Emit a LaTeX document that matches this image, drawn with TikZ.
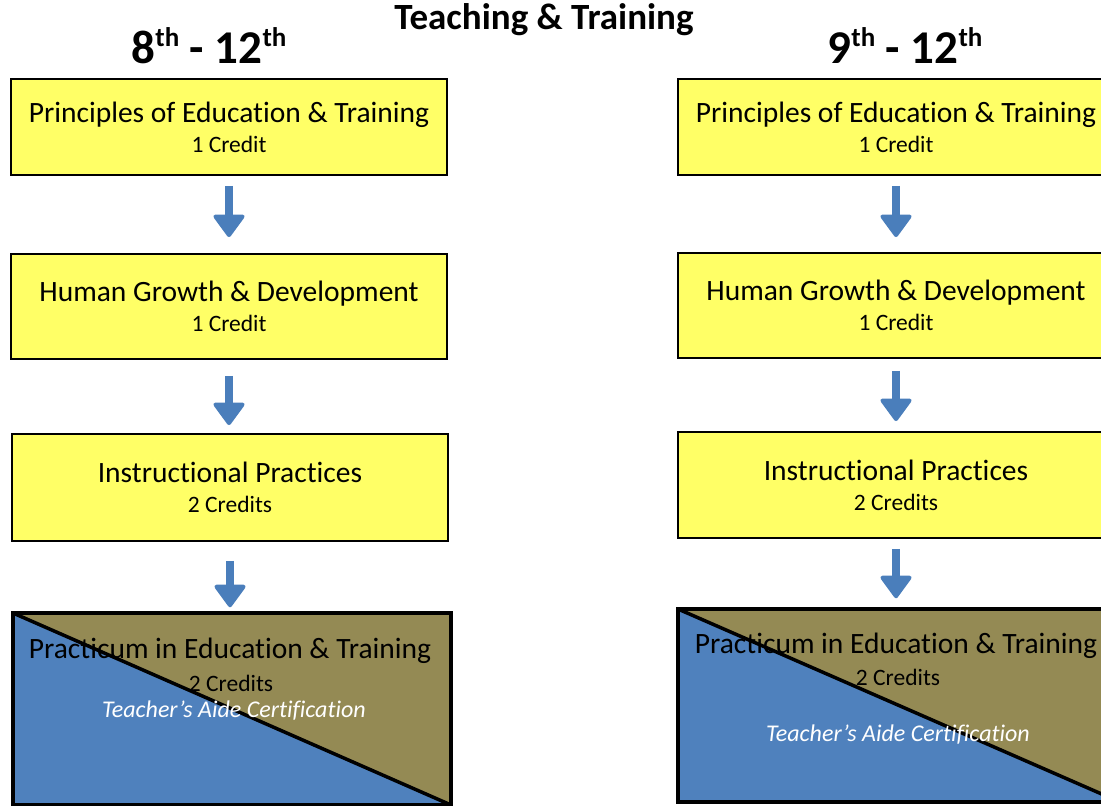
\documentclass[tikz,border=0pt]{standalone}
\usepackage{fontspec}
\setmainfont{Carlito}[Ligatures=NoCommon]
\usetikzlibrary{arrows.meta}

\definecolor{courseyellow}{RGB}{255,255,102}
\definecolor{flowblue}{RGB}{74,126,187}
\definecolor{aideblue}{RGB}{79,129,189}
\definecolor{aideolive}{RGB}{148,138,84}
\newcommand{\gradeord}[1]{\raisebox{17pt}{\fontsize{27}{27}\selectfont #1}}

\begin{document}
\begin{tikzpicture}[x=1pt,y=-1pt,
  course/.style = {draw=black, line width=1.8pt, fill=courseyellow,
    minimum width=436pt, inner sep=0pt, align=center,
    font=\fontsize{29.5}{31}\selectfont},
  credit/.style = {font=\fontsize{23.5}{26}\selectfont},
  practicum/.style = {draw=black, line width=3.5pt,
    minimum width=438pt, minimum height=192pt, inner sep=0pt,
    path picture={
      \fill[aideolive] (path picture bounding box.north west)
        -- (path picture bounding box.north east)
        -- (path picture bounding box.south east) -- cycle;
      \fill[aideblue] (path picture bounding box.north west)
        -- (path picture bounding box.south west)
        -- (path picture bounding box.south east) -- cycle;
      \draw[line width=3.5pt] (path picture bounding box.north west)
        -- (path picture bounding box.south east);
    }},
  aide/.style = {text=white, font=\fontsize{24}{28}\selectfont\itshape},
  grade/.style = {font=\fontsize{47}{52}\selectfont\bfseries},
  flow/.style = {draw=flowblue, line width=8pt,
    -{Triangle[width=34pt,length=24pt,line width=4pt,round]}},
]
\clip (0,0) rectangle (1101,806);

% heading
\node[font=\fontsize{37}{42}\selectfont\bfseries] (title) at (544,20) {Teaching \& Training};
\node[grade] (gradeA) at (209,46) {8\gradeord{th} - 12\gradeord{th}};
\node[grade] (gradeB) at (905,46) {9\gradeord{th} - 12\gradeord{th}};

% 8th - 12th column
\node[course, minimum height=96pt] (l1) at (229,127)
  {Principles of Education \& Training\\[-1pt]{\fontsize{23.5}{26}\selectfont 1 Credit}};
\node[course, minimum height=105pt] (l2) at (229,306.5)
  {Human Growth \& Development\\[-1pt]{\fontsize{23.5}{26}\selectfont 1 Credit}};
\node[course, minimum height=107pt] (l3) at (230,487.5)
  {Instructional Practices\\[-1pt]{\fontsize{23.5}{26}\selectfont 2 Credits}};
\node[practicum] (l4) at (232,709) {};
\node[font=\fontsize{29.5}{31}\selectfont] (l4name) at (230,651) {Practicum in Education \& Training};
\node[credit] (l4credit) at (231,683) {2 Credits};
\node[aide] (l4aide) at (234,711) {Teacher’s Aide Certification};

% 9th - 12th column
\node[course, minimum height=96pt] (r1) at (896,127)
  {Principles of Education \& Training\\[-1pt]{\fontsize{23.5}{26}\selectfont 1 Credit}};
\node[course, minimum height=105pt] (r2) at (896,305.5)
  {Human Growth \& Development\\[-1pt]{\fontsize{23.5}{26}\selectfont 1 Credit}};
\node[course, minimum height=106pt] (r3) at (896,485)
  {Instructional Practices\\[-1pt]{\fontsize{23.5}{26}\selectfont 2 Credits}};
\node[practicum, minimum width=442pt, minimum height=193pt] (r4) at (899,705.5) {};
\node[font=\fontsize{29.5}{31}\selectfont] (r4name) at (896,646) {Practicum in Education \& Training};
\node[credit] (r4credit) at (898,677) {2 Credits};
\node[aide] (r4aide) at (898,735) {Teacher’s Aide Certification};

% arrows
\draw[flow, shorten <=10pt, shorten >=16pt] (l1.south) -- (l1.south |- l2.north);
\draw[flow, shorten <=16pt, shorten >=8pt] (l2.south) -- (l2.south |- l3.north);
\draw[flow, shorten <=19pt, shorten >=4pt] (l3.south) -- (l3.south |- l4.north);
\draw[flow, shorten <=10pt, shorten >=15pt] (r1.south) -- (r1.south |- r2.north);
\draw[flow, shorten <=12pt, shorten >=10pt] (r2.south) -- (r2.south |- r3.north);
\draw[flow, shorten <=10pt, shorten >=9pt] (r3.south) -- (r3.south |- r4.north);
\end{tikzpicture}
\end{document}
